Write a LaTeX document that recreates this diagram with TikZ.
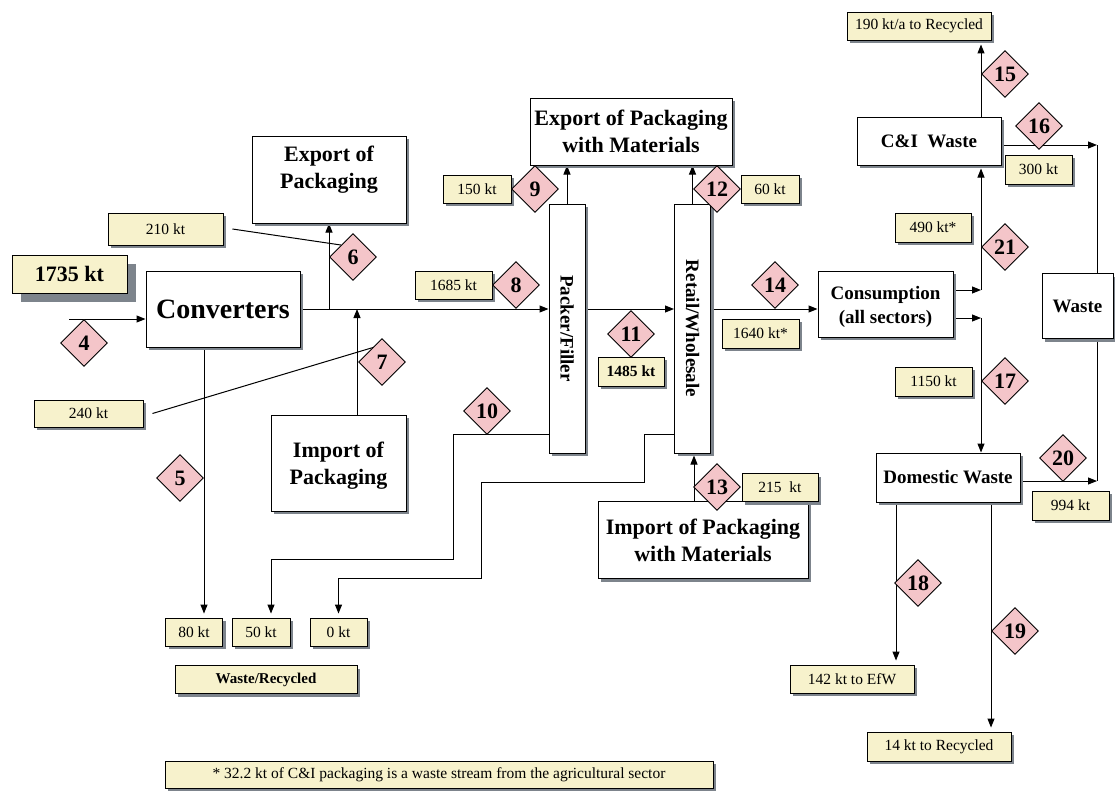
\documentclass[tikz,border=0pt]{standalone}
\usepackage{fontspec}
\setmainfont{Liberation Serif}
\usetikzlibrary{arrows.meta,shapes.geometric,shadows}
\definecolor{labelfill}{HTML}{F7F2CC}
\definecolor{markfill}{HTML}{F4C5C9}
\definecolor{shadowgray}{HTML}{7D848C}
\pgfdeclarelayer{background}
\pgfsetlayers{background,main}

\begin{document}
\begin{tikzpicture}[x=1pt,y=-1pt,
  shadowed/.style={drop shadow={shadow xshift=3pt,shadow yshift=-3pt,fill=shadowgray,opacity=1}},
  bigshadow/.style={drop shadow={shadow xshift=9pt,shadow yshift=-9pt,fill=shadowgray,opacity=1}},
  stage/.style={draw,fill=white,line width=1pt,inner sep=0pt,align=center,shadowed},
  qtybase/.style={draw,fill=labelfill,line width=0.9pt,inner sep=0pt,font=\fontsize{15.5}{18}\selectfont},
  qty/.style={qtybase,shadowed},
  flowno/.style={diamond,draw,fill=markfill,line width=0.9pt,inner sep=0pt,
    minimum width=47pt,minimum height=47pt,font=\fontsize{22}{24}\selectfont\bfseries},
  arr/.style={line width=1pt,-{Triangle[length=9pt,width=7pt]}},
  link/.style={line width=1pt},
  lbl/.style={align=center,inner sep=0pt},
  bigfont/.style={font=\fontsize{22}{27}\selectfont\bfseries},
  midfont/.style={font=\fontsize{19}{24}\selectfont\bfseries}
]
\useasboundingbox (0,0) rectangle (1115,790);

% process boxes
\node[stage,minimum width=154pt,minimum height=87pt] (expk) at (329,179.5) {};
\node[lbl,bigfont] (expkT) at (329,170) {Export of\\Packaging};
\node[stage,minimum width=154pt,minimum height=76pt,font=\fontsize{28}{32}\selectfont\bfseries] (conv) at (223,309) {Converters};
\node[stage,minimum width=135pt,minimum height=96pt] (impk) at (338.5,463) {};
\node[lbl,bigfont] (impkT) at (338.5,466) {Import of\\Packaging};
\node[stage,bigfont,minimum width=202pt,minimum height=67pt] (expm) at (631,131.5) {Export of Packaging\\with Materials};
\node[stage,minimum width=36pt,minimum height=249pt] (packer) at (567,328.5) {};
\node[lbl,midfont,rotate=-90] (packerT) at (567,328.5) {Packer/Filler};
\node[stage,minimum width=36pt,minimum height=249pt] (retail) at (692.5,328.5) {};
\node[lbl,midfont,rotate=-90] (retailT) at (692.5,328.5) {Retail/Wholesale};
\node[stage,bigfont,minimum width=210pt,minimum height=77pt] (impm) at (703,540) {Import of Packaging\\with Materials};
\node[stage,minimum width=135pt,minimum height=66pt] (cons) at (885.5,304) {};
\node[lbl,midfont] (consT) at (885.5,307) {Consumption\\(all sectors)};
\node[stage,midfont,minimum width=144pt,minimum height=48pt] (ciw) at (929,141) {C\&I\ \ Waste};
\node[stage,midfont,minimum width=71pt,minimum height=65pt] (waste) at (1077.5,306) {Waste};
\node[stage,midfont,minimum width=144pt,minimum height=49pt] (dom) at (948,477.5) {Domestic Waste};

% quantity labels
\node[qty,minimum width=144pt,minimum height=28pt] (r190) at (919,26) {190 kt/a to Recycled};
\node[qty,minimum width=67pt,minimum height=29pt] (r300) at (1038.5,169.5) {300 kt};
\node[qty,minimum width=76pt,minimum height=29pt] (r490) at (933,227.5) {490 kt*};
\node[qty,minimum width=77pt,minimum height=29pt] (r1150) at (933.5,381.5) {1150 kt};
\node[qty,minimum width=77pt,minimum height=29pt] (r994) at (1070.5,505.5) {994 kt};
\node[qty,minimum width=124pt,minimum height=28pt] (r142) at (852,679) {142 kt to EfW};
\node[qty,minimum width=144pt,minimum height=29pt] (r14) at (939,746.5) {14 kt to Recycled};
\node[qty,minimum width=115pt,minimum height=32pt] (r210) at (165.5,229) {210 kt};
\node[qtybase,bigshadow,minimum width=115pt,minimum height=38pt,font=\fontsize{22}{24}\selectfont\bfseries] (r1735) at (69.5,274) {1735 kt};
\node[qty,minimum width=109pt,minimum height=27pt] (r240) at (88.5,413.5) {240 kt};
\node[qty,minimum width=68pt,minimum height=28pt] (r150) at (477,189) {150 kt};
\node[qty,minimum width=58pt,minimum height=28pt] (r60) at (770,189) {60 kt};
\node[qty,minimum width=77pt,minimum height=28pt] (r1685) at (453.5,285) {1685 kt};
\node[qty,minimum width=66pt,minimum height=29pt,font=\fontsize{15.5}{18}\selectfont\bfseries] (r1485) at (631,371.5) {1485 kt};
\node[qty,minimum width=77pt,minimum height=29pt] (r1640) at (760.5,333.5) {1640 kt*};
\node[qty,minimum width=76pt,minimum height=28pt] (r215) at (780,487.5) {215\ \ kt};
\node[qty,minimum width=57pt,minimum height=28pt] (r80) at (194,632) {80 kt};
\node[qty,minimum width=58pt,minimum height=28pt] (r50) at (261,632) {50 kt};
\node[qty,minimum width=57pt,minimum height=28pt] (r0) at (338.5,632) {0 kt};
\node[qty,minimum width=182pt,minimum height=28pt,font=\fontsize{15}{18}\selectfont\bfseries] (rwr) at (266,679.5) {Waste/Recycled};
\node[qty,minimum width=548pt,minimum height=27pt] (note) at (439,774.5) {* 32.2 kt of C\&I packaging is a waste stream from the agricultural sector};

% flow numbers
\node[flowno] (d4) at (84,343) {4};
\node[flowno] (d5) at (180,478) {5};
\node[flowno] (d6) at (353,257) {6};
\node[flowno] (d7) at (382,362) {7};
\node[flowno] (d8) at (516,285) {8};
\node[flowno] (d9) at (535,189) {9};
\node[flowno] (d10) at (487,411) {10};
\node[flowno] (d11) at (631,334) {11};
\node[flowno] (d12) at (717,189) {12};
\node[flowno] (d13) at (717,487) {13};
\node[flowno] (d14) at (775,285) {14};
\node[flowno] (d15) at (1005,74) {15};
\node[flowno] (d16) at (1039,126) {16};
\node[flowno] (d17) at (1005,381) {17};
\node[flowno] (d18) at (918,583) {18};
\node[flowno] (d19) at (1015,631) {19};
\node[flowno] (d20) at (1063,458) {20};
\node[flowno] (d21) at (1005,247) {21};

% flow connectors, drawn underneath the boxes
\begin{pgfonlayer}{background}
\coordinate (src) at (69,319);
\draw[arr] (src) -- (src -| conv.west);
\draw[arr] (conv.east) -- (conv.east -| packer.west);
\coordinate (j6) at (329,309);
\draw[arr] (j6) -- (expk.south);
\draw[arr] ([xshift=18.5pt]impk.north) -- ([xshift=18.5pt]impk.north |- conv.east);
\draw[arr,shorten >=4pt] ([xshift=-19pt]conv.south) -- ([xshift=-19pt]conv.south |- r80.north);
\draw[arr,shorten >=4pt] ([yshift=-105.5pt]packer.west) -- ++(-95.5,0) -- ++(0,125) -| ([xshift=10pt]r50.north);
\draw[arr,shorten >=4pt] ([yshift=-105.5pt]retail.west) -- ++(-29.5,0) -- ++(0,48) -- ++(-163,0) -- ++(0,96) -| (r0.north);
\draw[arr] (conv.east -| packer.east) -- (conv.east -| retail.west);
\draw[arr] (packer.north) -- (packer.north |- expm.south);
\draw[arr] (retail.north) -- (retail.north |- expm.south);
\draw[arr,shorten >=2pt] ([xshift=-9pt]impm.north) -- ([xshift=-9pt]impm.north |- retail.south);
\draw[arr] (conv.east -| retail.east) -- (conv.east -| cons.west);
\coordinate (jc) at (981,290);
\coordinate (jd) at (981,318);
\draw[arr] (jc -| cons.east) -- (jc);
\draw[arr,shorten >=3pt] (jc) -- (jc |- ciw.south);
\draw[arr] (jd -| cons.east) -- (jd);
\draw[arr] (jd) -- (jd |- dom.north);
\draw[arr,shorten >=4pt] (jc |- ciw.north) -- (jc |- r190.south);
\coordinate (jw1) at (1097,145);
\coordinate (jw2) at (1097,481);
\draw[link] (jw1) -- (jw2);
\draw[arr] (jw1 -| ciw.east) -- (jw1);
\draw[arr] (jw2 -| dom.east) -- (jw2);
\draw[arr,shorten >=4pt] ([xshift=-52pt]dom.south) -- ([xshift=-52pt]dom.south |- r142.north);
\draw[arr,shorten >=4pt] ([xshift=43pt]dom.south) -- ([xshift=43pt]dom.south |- r14.north);
% leader lines from the side labels
\draw[link] ([xshift=9pt]r210.east) -- (d6.north west);
\draw[link] ([xshift=9pt]r240.east) -- ([xshift=-4pt,yshift=16pt]d7.center);
\end{pgfonlayer}
\end{tikzpicture}
\end{document}
